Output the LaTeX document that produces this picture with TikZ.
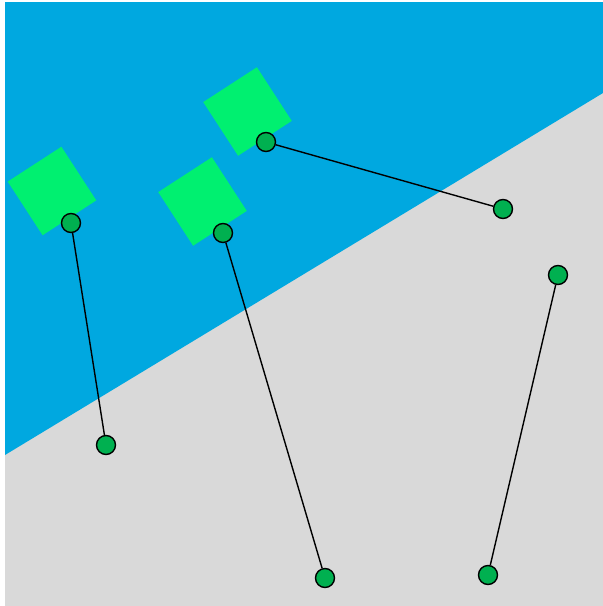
\documentclass[tikz,border=0pt]{standalone}
\definecolor{skyblue}{RGB}{0,168,224}
\definecolor{lightgray}{RGB}{217,217,217}
\definecolor{boxgreen}{RGB}{0,240,112}
\definecolor{dotgreen}{RGB}{0,176,80}
\tikzset{
  sq/.style={fill=boxgreen, draw=none, minimum size=64pt, inner sep=0pt, rotate=33},
  dot/.style={circle, fill=dotgreen, draw=black, line width=1.4pt, minimum size=19pt, inner sep=0pt},
  link/.style={draw=black, line width=1.4pt}
}
\begin{document}
\begin{tikzpicture}[x=1pt,y=-1pt]
\useasboundingbox (0,0) rectangle (603,606);
\fill[lightgray] (5,2) rectangle (603,606);
\fill[skyblue] (5,2) -- (603,2) -- (603,93) -- (5,455) -- cycle;
\node[sq] (s1) at (52,191) {};
\node[sq] (s2) at (247.5,111.5) {};
\node[sq] (s3) at (202.5,201.5) {};
\node[dot] (a1) at (71,223) {};
\node[dot] (a2) at (106,445) {};
\node[dot] (b1) at (223,233) {};
\node[dot] (b2) at (325,578) {};
\node[dot] (c1) at (266,142) {};
\node[dot] (c2) at (503,209) {};
\node[dot] (d1) at (558,275) {};
\node[dot] (d2) at (488,575) {};
\draw[link] (a1) -- (a2);
\draw[link] (b1) -- (b2);
\draw[link] (c1) -- (c2);
\draw[link] (d1) -- (d2);
\end{tikzpicture}
\end{document}
